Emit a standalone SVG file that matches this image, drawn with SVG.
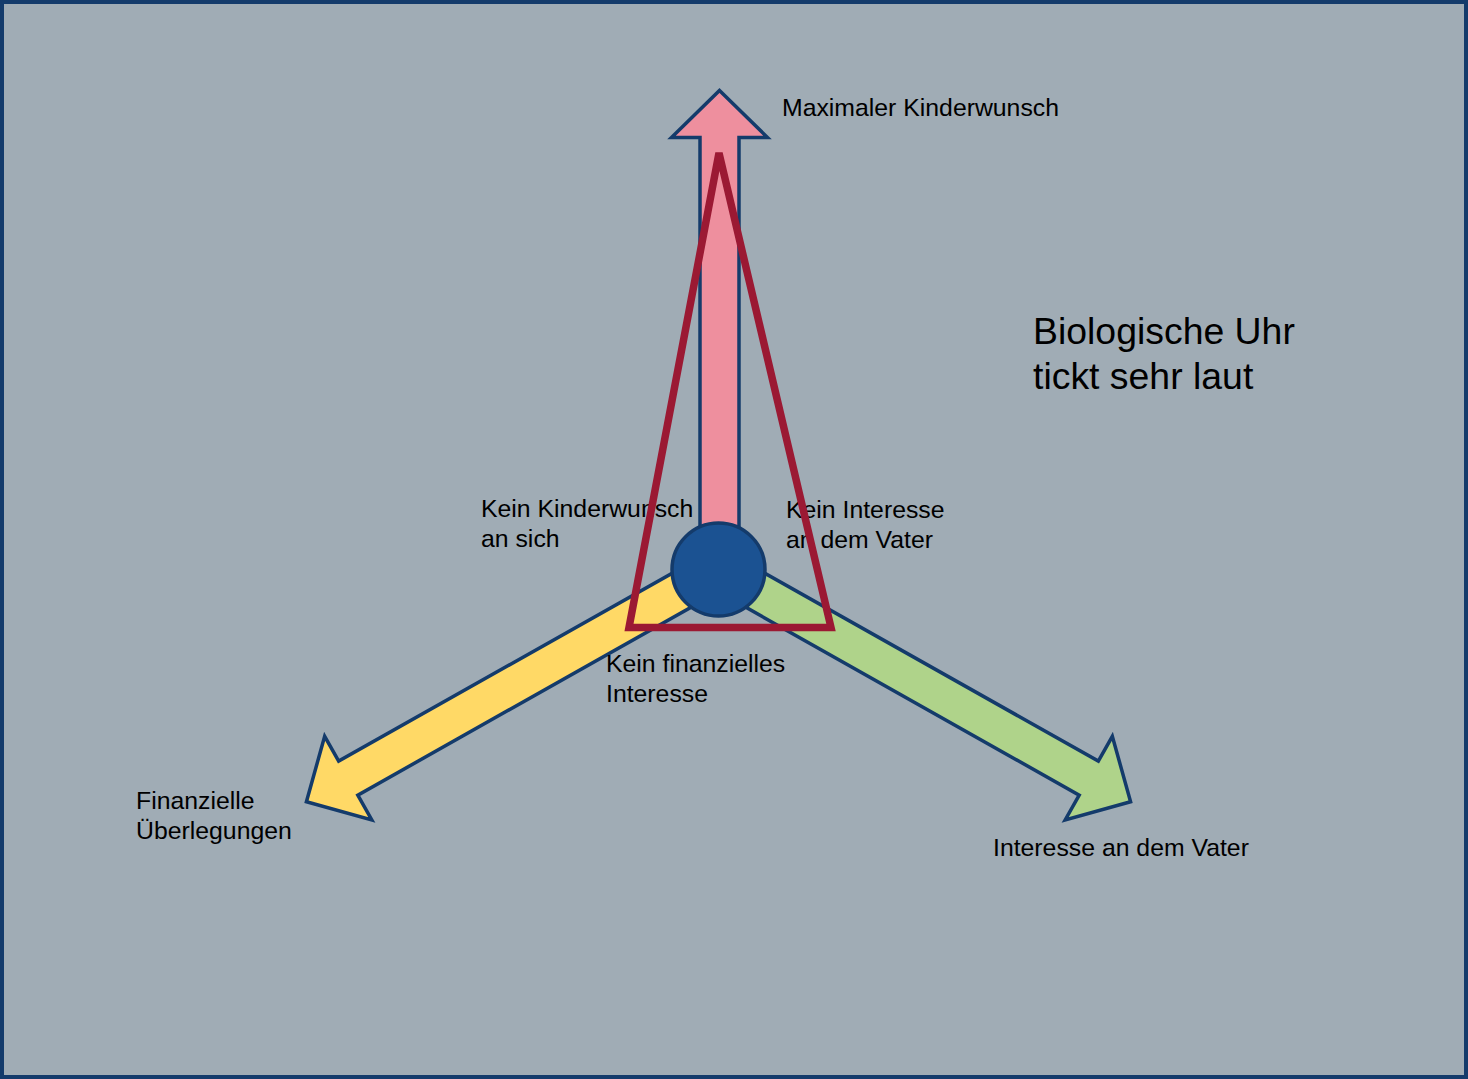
<svg xmlns="http://www.w3.org/2000/svg" width="1468" height="1079" viewBox="0 0 1468 1079">
<style>
.bg{fill:#a0acb5;stroke:#143b6b;stroke-width:4}
.arr{stroke:#143b6b;stroke-width:3.5;stroke-linejoin:miter}
.t{font-family:"Liberation Sans",Arial,sans-serif;font-size:24.8px;fill:#000}
.big{font-size:37.4px}
.tri{fill:none;stroke:#9b1933;stroke-width:7.5}
</style>
<rect class="bg" x="2" y="2" width="1464" height="1075"/>
<g id="connectors">
<polygon id="arrow-up" class="arr" fill="#ee8f9e" transform="translate(719.5,569.5)" points="0,-479 48,-432 19.5,-432 19.5,-40 -19.5,-40 -19.5,-432 -48,-432"/>
<polygon id="arrow-left" class="arr" fill="#ffd966" transform="translate(718.5,569.5) rotate(-119.4)" points="0,-473 48,-425 19.5,-425 19.5,-40 -19.5,-40 -19.5,-425 -48,-425"/>
<polygon id="arrow-right" class="arr" fill="#afd38a" transform="translate(718.5,569.5) rotate(119.4)" points="0,-473 48,-425 19.5,-425 19.5,-40 -19.5,-40 -19.5,-425 -48,-425"/>
</g>
<g id="center">
<circle cx="718.5" cy="569.5" r="46.5" fill="#1b5292" stroke="#143b6b" stroke-width="3.5"/>
</g>
<g id="labels">
<text class="t" x="782" y="116">Maximaler Kinderwunsch</text>
<text class="t big" x="1033" y="344">Biologische Uhr</text>
<text class="t big" x="1033" y="389">tickt sehr laut</text>
<text class="t" x="481" y="517">Kein Kinderwunsch</text>
<text class="t" x="481" y="547">an sich</text>
<text class="t" x="786" y="518">Kein Interesse</text>
<text class="t" x="786" y="548">an dem Vater</text>
<text class="t" x="606" y="672">Kein finanzielles</text>
<text class="t" x="606" y="702">Interesse</text>
<text class="t" x="136" y="809">Finanzielle</text>
<text class="t" x="136" y="839">Überlegungen</text>
<text class="t" x="993" y="856">Interesse an dem Vater</text>
</g>
<g id="triangle">
<polygon class="tri" points="719,153 629,627.5 831,627.5"/>
</g>
</svg>
